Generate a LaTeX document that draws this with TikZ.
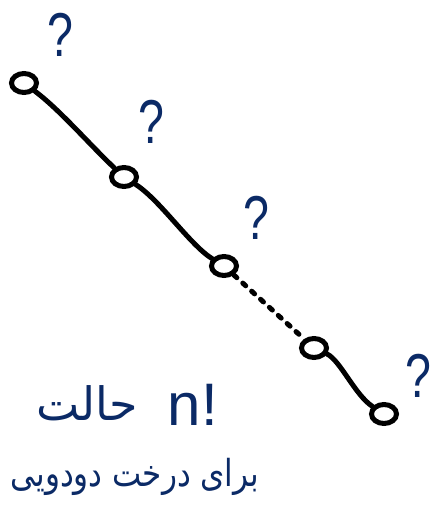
\documentclass[tikz,border=0pt]{standalone}
\usepackage{fontspec}
\setmainfont{Liberation Sans}
\newfontfamily\arabicfont[Script=Arabic]{DejaVu Sans}
\TeXXeTstate=1
\usetikzlibrary{shapes.geometric}
\definecolor{ink}{HTML}{0B2A66}
\tikzset{
  vtx/.style={draw=black, line width=5pt, ellipse, minimum width=25pt, minimum height=19pt, inner sep=0pt, fill=white},
  edge/.style={draw=black, line width=5pt, line cap=round},
  dotedge/.style={draw=black, line width=5pt, line cap=round, dash pattern=on 4pt off 8pt},
  qmark/.style={text=ink, font=\fontsize{62}{62}\selectfont, inner sep=0pt, xscale=0.75},
  fa/.style={text=ink, inner sep=0pt},
}
\begin{document}
\begin{tikzpicture}[x=1pt,y=-1pt]
\useasboundingbox (0,0) rectangle (434,513);
\node[vtx] (v1) at (24,83) {};
\node[vtx] (v2) at (124,177) {};
\node[vtx] (v3) at (224,266) {};
\node[vtx] (v4) at (314,348) {};
\node[vtx] (v5) at (384,414) {};
\draw[edge] (v1) .. controls (60,110) and (90,145) .. (v2);
\draw[edge] (v2) .. controls (160,200) and (190,245) .. (v3);
\draw[dotedge] (v3) -- (v4);
\draw[edge] (v4) .. controls (340,360) and (355,395) .. (v5);
\node[qmark] (q1) at (60,35) {?};
\node[qmark] (q2) at (151,122) {?};
\node[qmark] (q3) at (256,218) {?};
\node[qmark] (q4) at (418,376) {?};
\node[fa, font=\arabicfont\fontsize{46}{46}\selectfont] (t1) at (87,403) {\beginR حالت\endR};
\node[fa, font=\fontsize{60}{60}\selectfont] (t2) at (193,405) {n!};
\node[fa, font=\arabicfont\fontsize{31}{31}\selectfont, yscale=1.2] (t3) at (135,477) {\beginR برای درخت دودویی\endR};
\end{tikzpicture}
\end{document}
